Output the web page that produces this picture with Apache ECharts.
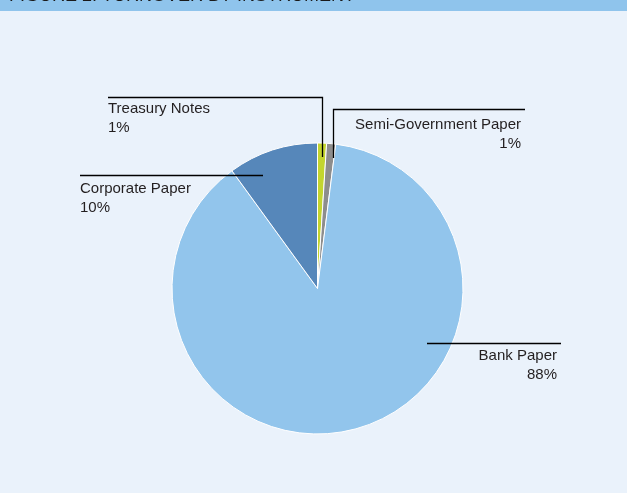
<!DOCTYPE html>
<html>
<head>
<meta charset="utf-8">
<script src="https://cdn.jsdelivr.net/npm/echarts@6/dist/echarts.min.js"></script>
<style>
  html, body { margin: 0; padding: 0; background: #eaf2fb; }
  #chart { width: 627px; height: 493px; }
</style>
</head>
<body>
<div id="chart"></div>
<script>
// Turnover by instrument, percent of total
const categories = ['Treasury Notes', 'Semi-Government Paper', 'Bank Paper', 'Corporate Paper'];
const shares = [1, 1, 88, 10];
const sliceColors = ['#c3d52f', '#8d8d8d', '#92c5ec', '#5687ba'];
const headerText = 'FIGURE 2: TURNOVER BY INSTRUMENT';

// Callout placement for each slice label: text anchor and leader line path
const callouts = [
  { x: 108, y: 99.5, align: 'left',  line: [[322.5, 157], [322.5, 97.5], [108, 97.5]] },
  { x: 521, y: 115,  align: 'right', line: [[333.5, 158], [333.5, 109.5], [525, 109.5]] },
  { x: 557, y: 346,  align: 'right', line: [[427, 343.5], [561, 343.5]] },
  { x: 80,  y: 179.5, align: 'left', line: [[263, 175.5], [80, 175.5]] }
];

const chart = echarts.init(document.getElementById('chart'), null, { renderer: 'canvas' });

const leaderLines = callouts.map(c => ({
  type: 'polyline',
  shape: { points: c.line },
  style: { stroke: '#000000', lineWidth: 1.3, fill: null },
  silent: true,
  z: 100
}));

chart.setOption({
  backgroundColor: '#eaf2fb',
  animation: false,
  graphic: [
    {
      type: 'rect',
      shape: { x: 0, y: 0, width: 627, height: 11 },
      style: { fill: '#8fc4ec' },
      z: 0
    },
    {
      type: 'text',
      x: 9, y: -12.5,
      style: {
        text: headerText,
        fill: '#1a1a1a',
        font: '18px "Liberation Sans", Arial, sans-serif',
        verticalAlign: 'top',
        align: 'left'
      },
      z: 1
    }
  ].concat(leaderLines),
  series: [{
    type: 'pie',
    center: [317.5, 288.5],
    radius: 145.5,
    startAngle: 90,
    clockwise: true,
    avoidLabelOverlap: false,
    data: categories.map((name, i) => ({
      name,
      value: shares[i],
      itemStyle: { color: sliceColors[i] }
    })),
    itemStyle: { borderColor: '#ffffff', borderWidth: 1 },
    label: {
      show: true,
      position: 'outside',
      formatter: p => p.name + '\n' + p.value + '%',
      color: '#231f20',
      fontFamily: '"Liberation Sans", Arial, sans-serif',
      fontSize: 15,
      lineHeight: 19
    },
    labelLine: { show: false },
    labelLayout: params => {
      const c = callouts[params.dataIndex];
      return {
        x: c.x,
        y: c.y,
        align: c.align,
        verticalAlign: 'top'
      };
    },
    emphasis: { disabled: true }
  }]
});
</script>
</body>
</html>
